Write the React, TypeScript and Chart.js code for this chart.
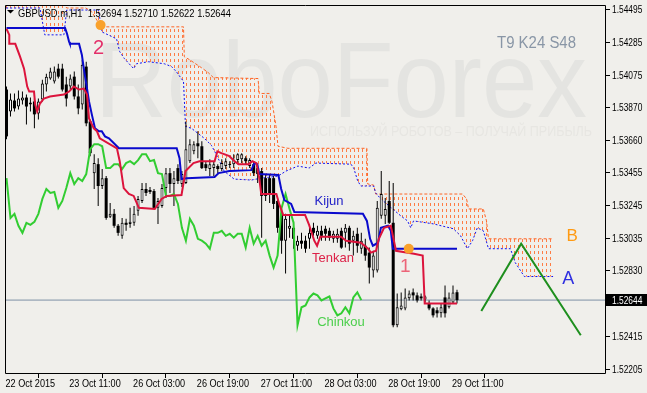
import React, { useEffect, useRef } from 'react';
import { Chart, registerables } from 'chart.js';

Chart.register(...registerables);

const BG = '#F0EFEB';
const TEXT_FAMILY = "'Liberation Sans', Arial, sans-serif";

// ---- axis ticks ----
const xTickBars = [0, 16, 32, 48, 64, 80, 96, 112];
const xTickLabels = ['22 Oct 2015', '23 Oct 11:00', '26 Oct 03:00', '26 Oct 19:00', '27 Oct 11:00', '28 Oct 03:00', '28 Oct 19:00', '29 Oct 11:00'];
const yTickValues = [1.54495, 1.54285, 1.54075, 1.5387, 1.5366, 1.53455, 1.53245, 1.53035, 1.5283, 1.52415, 1.52205];
const lastPrice = 1.52644;
const titleText = 'GBPUSD.m,H1  1.52694 1.52710 1.52622 1.52644';
const settingsText = 'T9 K24 S48';
const chinkouShift = 24;

// ---- H1 candles (bar index 0..113) ----
const opens = [
  1.53984, 1.53845, 1.53914, 1.53876, 1.53914, 1.53933, 1.53889, 1.53908, 1.53832, 1.53921,
  1.54016, 1.54054, 1.54035, 1.54117, 1.54117, 1.54016, 1.54003, 1.54066, 1.5394, 1.53889,
  1.5413, 1.53781, 1.53452, 1.53509, 1.5337, 1.5342, 1.53174, 1.53193, 1.53117, 1.53053,
  1.53136, 1.53129, 1.53136, 1.53212, 1.53275, 1.53351, 1.53345, 1.53338, 1.53231, 1.53243,
  1.53357, 1.53452, 1.53383, 1.53484, 1.53383, 1.53389, 1.53528, 1.53591, 1.53642, 1.53623,
  1.53509, 1.53478, 1.53484, 1.53497, 1.53478, 1.53497, 1.53503, 1.53509, 1.53535, 1.53541,
  1.53547, 1.53497, 1.53509, 1.53484, 1.53465, 1.5342, 1.5342, 1.5342, 1.53275, 1.53193,
  1.53022, 1.53098, 1.53104, 1.5299, 1.53022, 1.53022, 1.53034, 1.53104, 1.53053, 1.53085,
  1.53098, 1.53085, 1.53034, 1.53034, 1.53085, 1.53072, 1.53104, 1.53022, 1.53066, 1.52971,
  1.5299, 1.52946, 1.52832, 1.52832, 1.5318, 1.5318, 1.53275, 1.53136, 1.52484, 1.52585,
  1.52591, 1.52655, 1.52693, 1.52674, 1.52667, 1.52648, 1.52623, 1.52591, 1.52579, 1.5256,
  1.52661, 1.52598, 1.52629, 1.52694,
];
const highs = [
  1.54003, 1.53959, 1.53959, 1.53978, 1.53971, 1.53952, 1.53933, 1.53927, 1.53927, 1.54047,
  1.54085, 1.54123, 1.5413, 1.54148, 1.54148, 1.54066, 1.54079, 1.54098, 1.54016, 1.54174,
  1.54161, 1.53794, 1.53572, 1.53547, 1.53478, 1.53433, 1.53262, 1.53224, 1.53129, 1.53167,
  1.53161, 1.53231, 1.53243, 1.53307, 1.53389, 1.53389, 1.53364, 1.53351, 1.53294, 1.53383,
  1.53484, 1.53484, 1.53465, 1.53509, 1.53465, 1.53781, 1.53667, 1.53655, 1.53718, 1.53655,
  1.53528, 1.53541, 1.53528, 1.53509, 1.53541, 1.53547, 1.53528, 1.53572, 1.53579, 1.53579,
  1.5356, 1.53547, 1.53528, 1.53509, 1.53484, 1.53446, 1.53446, 1.53433, 1.53294, 1.53212,
  1.53193, 1.5318, 1.53148, 1.53053, 1.53072, 1.53053, 1.53104, 1.53136, 1.53117, 1.53117,
  1.53117, 1.53104, 1.53085, 1.53098, 1.53104, 1.53129, 1.53117, 1.53085, 1.53104, 1.53072,
  1.53034, 1.52978, 1.52958, 1.53275, 1.53465, 1.53294, 1.53402, 1.53389, 1.52686, 1.52693,
  1.52718, 1.52705, 1.52718, 1.52693, 1.52686, 1.52674, 1.52642, 1.52598, 1.52598, 1.52623,
  1.52737, 1.52693, 1.52737, 1.5271,
];
const lows = [
  1.53667, 1.53813, 1.53845, 1.53857, 1.53889, 1.53762, 1.53845, 1.53737, 1.53794, 1.53908,
  1.53971, 1.54047, 1.54022, 1.54054, 1.53971, 1.53876, 1.53984, 1.53921, 1.53826, 1.53857,
  1.5375, 1.5356, 1.53351, 1.53243, 1.53351, 1.53155, 1.53167, 1.53104, 1.53053, 1.53034,
  1.53085, 1.53104, 1.53117, 1.5318, 1.53262, 1.53307, 1.53319, 1.53224, 1.53129, 1.53231,
  1.53294, 1.53326, 1.53243, 1.53383, 1.53364, 1.53383, 1.53516, 1.53572, 1.53547, 1.53478,
  1.53465, 1.53433, 1.53433, 1.53452, 1.53465, 1.53478, 1.53484, 1.53484, 1.53509, 1.53516,
  1.53509, 1.53484, 1.53433, 1.53389, 1.53041, 1.53275, 1.53262, 1.53224, 1.53072, 1.52939,
  1.52813, 1.53041, 1.52971, 1.52958, 1.52971, 1.52946, 1.52971, 1.53053, 1.53034, 1.53022,
  1.53022, 1.53022, 1.53009, 1.53009, 1.52971, 1.52978, 1.52958, 1.52927, 1.52946, 1.52939,
  1.52895, 1.5275, 1.52787, 1.52819, 1.53161, 1.53129, 1.53129, 1.52471, 1.52471, 1.52579,
  1.52579, 1.52642, 1.52642, 1.52629, 1.52642, 1.52629, 1.52579, 1.52534, 1.52534, 1.52534,
  1.52534, 1.52591, 1.52623, 1.52622,
];
const closes = [
  1.53686, 1.53921, 1.53864, 1.53927, 1.53933, 1.53876, 1.53902, 1.53826, 1.53908, 1.54022,
  1.54066, 1.54098, 1.54098, 1.54066, 1.53984, 1.53927, 1.54054, 1.5394, 1.53864, 1.54142,
  1.53769, 1.53579, 1.53516, 1.5337, 1.5342, 1.53167, 1.53193, 1.53117, 1.53072, 1.53136,
  1.53123, 1.53142, 1.53193, 1.53288, 1.53351, 1.53326, 1.53332, 1.53231, 1.53275, 1.53357,
  1.53452, 1.53383, 1.5342, 1.53402, 1.53446, 1.53604, 1.53636, 1.53636, 1.53623, 1.53484,
  1.53484, 1.53509, 1.53509, 1.53478, 1.53516, 1.53528, 1.53509, 1.53535, 1.53572, 1.53572,
  1.53528, 1.53535, 1.53452, 1.53446, 1.53307, 1.53307, 1.53319, 1.53256, 1.53104, 1.53022,
  1.53161, 1.53117, 1.53034, 1.53022, 1.53003, 1.52971, 1.53072, 1.53072, 1.53085, 1.53053,
  1.53066, 1.53041, 1.53066, 1.53066, 1.52978, 1.53104, 1.53003, 1.53053, 1.5299, 1.53022,
  1.52927, 1.52851, 1.52927, 1.53231, 1.53319, 1.53224, 1.53136, 1.52484, 1.52598, 1.5261,
  1.52661, 1.52686, 1.52674, 1.52642, 1.52655, 1.52667, 1.52591, 1.52547, 1.5256, 1.52598,
  1.5256, 1.52661, 1.52693, 1.52644,
];

// ---- Ichimoku lines: [bar index, price] ----
const tenkanPoints = [
  [0, 1.5437], [0.7, 1.54332], [0.7, 1.54275], [2.2, 1.54275], [3.4, 1.54193], [4.4, 1.54117],
  [5.2, 1.54003], [5.7, 1.53971], [6.9, 1.53971], [7.2, 1.53889], [7.7, 1.53845], [8.4, 1.53895],
  [9.4, 1.53927], [10.9, 1.5394], [14.4, 1.53952], [15.7, 1.53971], [16.9, 1.54003], [18.2, 1.53984],
  [19.4, 1.5399], [20.2, 1.53952], [20.7, 1.538], [21.9, 1.53737], [22.7, 1.53718], [23.4, 1.53674],
  [27.7, 1.5361], [28.4, 1.53528], [29.4, 1.53357], [30.7, 1.53319], [31.9, 1.53307], [33.2, 1.53231],
  [37.2, 1.53224], [38.9, 1.53288], [40.2, 1.53307], [43.9, 1.53313], [44.4, 1.53389], [44.9, 1.53465],
  [46.9, 1.53516], [48.4, 1.53528], [52.2, 1.53528], [52.9, 1.53591], [53.9, 1.53579], [55.9, 1.5356],
  [57.2, 1.53528], [58.2, 1.53509], [60.7, 1.53509], [61.7, 1.53528], [62.7, 1.53516], [63.4, 1.5342],
  [63.9, 1.53319], [67.7, 1.53319], [68.4, 1.53256], [69.4, 1.53186], [74.9, 1.53186], [75.9, 1.53123],
  [77.2, 1.53022], [77.9, 1.5299], [78.7, 1.53047], [83.9, 1.53047], [85.2, 1.53022], [88.9, 1.53009],
  [90.7, 1.52971], [91.4, 1.52946], [92.7, 1.52958], [93.4, 1.53034], [94.7, 1.53104], [96.4, 1.53117],
  [97.7, 1.52958], [102.2, 1.52939], [104.4, 1.52927], [104.9, 1.52623], [113, 1.52623],
];
const kijunPoints = [
  [0, 1.54376], [14.7, 1.54376], [15.2, 1.54338], [15.7, 1.54288], [15.9, 1.54275], [18.2, 1.54275],
  [18.9, 1.54206], [19.4, 1.54117], [20.2, 1.5399], [20.7, 1.53908], [21.4, 1.53826], [22.2, 1.53737],
  [23.2, 1.53718], [23.9, 1.53718], [24.7, 1.53686], [25.7, 1.53674], [27.7, 1.53623], [28.2, 1.5361],
  [42.7, 1.5361], [43.4, 1.53547], [43.9, 1.53414], [45.2, 1.5342], [52.2, 1.53427], [53.2, 1.53452],
  [55.9, 1.53465], [61.4, 1.53471], [62.2, 1.53516], [62.9, 1.53509], [63.4, 1.53446], [68.2, 1.5344],
  [68.9, 1.53351], [69.7, 1.53281], [71.4, 1.53256], [72.2, 1.53205], [89.4, 1.53193], [90.4, 1.53148],
  [91.2, 1.53034], [91.9, 1.5299], [93.2, 1.53009], [93.9, 1.53104], [95.7, 1.53117], [96.4, 1.53085],
  [96.9, 1.52971], [113, 1.52971],
];
const senkouAPoints = [
  [-1.1, 1.54503], [8.4, 1.54503], [9.6, 1.54332], [14.4, 1.54332],
  [15.1, 1.5449], [23.1, 1.5449], [23.9, 1.54351], [27.6, 1.54307], [28.4, 1.54225], [29.6, 1.5418],
  [31.9, 1.54117], [32.6, 1.54148], [35.6, 1.54161], [39.6, 1.54148], [41.4, 1.5413], [42.6, 1.54098],
  [44.4, 1.54035], [44.9, 1.5375], [46.4, 1.53737], [49.6, 1.53674], [51.4, 1.53629], [52.6, 1.53572],
  [54.6, 1.53465], [57.1, 1.53414], [61.4, 1.53408], [63.9, 1.5342], [68.1, 1.53433], [70.1, 1.53465],
  [73.1, 1.53497], [75.9, 1.53484], [77.6, 1.53516], [86.4, 1.53509], [87.1, 1.53484], [88.1, 1.53402],
  [88.9, 1.5337], [92.1, 1.5337], [92.6, 1.53326], [93.9, 1.53288], [98.9, 1.5318], [100.6, 1.53148],
  [101.4, 1.53104], [102.1, 1.53148], [107.1, 1.53129], [112.1, 1.53098], [113.9, 1.53053], [115.6, 1.52971],
  [116.9, 1.53022], [118.1, 1.53104], [119.6, 1.53085], [120.9, 1.52971], [126.4, 1.52971], [127.6, 1.52883],
  [129.9, 1.52794], [137.1, 1.52794],
];
const senkouBPoints = [
  [-1.1, 1.54522], [14.6, 1.54522], [15.1, 1.54503], [19.9, 1.54503], [21.4, 1.54478], [23.1, 1.54408],
  [23.9, 1.54383], [44.4, 1.54383], [44.6, 1.54193], [45.9, 1.54174], [48.9, 1.54123], [50.6, 1.54092],
  [51.9, 1.5406], [63.1, 1.54054], [63.4, 1.53959], [65.9, 1.53959], [66.6, 1.53908], [67.6, 1.5375],
  [68.1, 1.53623], [70.6, 1.5361], [90.4, 1.5361], [90.6, 1.53383], [92.1, 1.53376], [92.6, 1.53319],
  [114.4, 1.53319], [115.4, 1.53288], [115.9, 1.53224], [119.6, 1.53224], [120.4, 1.53148], [120.9, 1.53034],
  [137.1, 1.53034],
];

// ---- drawn objects ----
const forecastPoints = [[119.1, 1.52574], [129.1, 1.53003], [144.05, 1.5242]];
const signalPoints = [[23.6, 1.54394], [100.9, 1.52971]];
const noteTexts = [
  { text: 'Kijun', x: 80.9, y: 1.53269, color: '#2222C8', size: 13 },
  { text: 'Tenkan', x: 81.9, y: 1.52908, color: '#DC2248', size: 13 },
  { text: 'Chinkou', x: 83.9, y: 1.52503, color: '#4CCF4C', size: 13 },
  { text: '2', x: 23.1, y: 1.54243, color: '#E3306A', size: 20 },
  { text: '1', x: 100.0, y: 1.52857, color: '#EC6478', size: 19 },
  { text: 'B', x: 141.9, y: 1.53047, color: '#FF9A12', size: 17 },
  { text: 'A', x: 140.9, y: 1.52781, color: '#2E2EE0', size: 18 },
];

const X_MIN = -0.375;
const X_MAX = 150.125;
const Y_MIN = 1.5218;
const Y_MAX = 1.54522;
const HATCH_COLOR = '#FF7C44';

function squeezeText(
  ctx: CanvasRenderingContext2D, text: string, x: number, y: number,
  sx: number, font: string, color: string,
) {
  ctx.save();
  ctx.font = font;
  ctx.fillStyle = color;
  ctx.textAlign = 'left';
  ctx.textBaseline = 'alphabetic';
  ctx.translate(x, y);
  ctx.scale(sx, 1);
  ctx.fillText(text, 0, 0);
  ctx.restore();
}

function fitText(ctx: CanvasRenderingContext2D, text: string, x: number, baseline: number, width: number, font: string, color: string) {
  ctx.save();
  ctx.font = font;
  const w = ctx.measureText(text).width || 1;
  ctx.restore();
  squeezeText(ctx, text, x, baseline, width / w, font, color);
}

const AXIS_FONT = `10px ${TEXT_FAMILY}`;

// Kumo hatch between the two Senkou datasets (indices 0 = A, 1 = B), using their laid-out points
const kumoPlugin = {
  id: 'kumo',
  beforeDatasetsDraw(chart: any) {
    const { ctx, chartArea: a } = chart;
    const ptsA = chart.getDatasetMeta(0).data;
    const ptsB = chart.getDatasetMeta(1).data;
    if (!ptsA.length || !ptsB.length) return;
    ctx.save();
    ctx.beginPath();
    ctx.rect(a.left, a.top, a.right - a.left, a.bottom - a.top);
    ctx.clip();
    ctx.beginPath();
    ptsB.forEach((p: any, i: number) => (i ? ctx.lineTo(p.x, p.y) : ctx.moveTo(p.x, p.y)));
    for (let i = ptsA.length - 1; i >= 0; i--) ctx.lineTo(ptsA[i].x, ptsA[i].y);
    ctx.closePath();
    ctx.clip();
    ctx.fillStyle = HATCH_COLOR;
    for (let x = Math.floor(a.left) + 1; x < a.right; x += 4) {
      for (let y = Math.floor(a.top); y < a.bottom; y += 6) {
        ctx.fillRect(x, y, 1, 3);
      }
    }
    ctx.restore();
  },
};

const decorPlugin = {
  id: 'decor',
  beforeDraw(chart: any) {
    const { ctx, width, height } = chart;
    ctx.save();
    ctx.fillStyle = BG;
    ctx.fillRect(0, 0, width, height);
    fitText(ctx, 'RoboForex', 95, 117, 492, `108px ${TEXT_FAMILY}`, '#E4E4E1');
    fitText(ctx, 'ИСПОЛЬЗУЙ РОБОТОВ – ПОЛУЧАЙ ПРИБЫЛЬ', 310, 136, 282, `14px ${TEXT_FAMILY}`, '#E7E6E2');
    ctx.restore();
  },
  afterDatasetsDraw(chart: any) {
    const { ctx, chartArea: a, scales } = chart;
    const xs = scales.x;
    const ys = scales.y;
    ctx.save();
    ctx.strokeStyle = '#000';
    ctx.lineWidth = 1;
    ctx.beginPath();
    ctx.moveTo(a.left + 0.5, a.bottom + 0.5);
    ctx.lineTo(a.left + 0.5, a.top + 0.5);
    ctx.lineTo(a.right + 0.5, a.top + 0.5);
    ctx.lineTo(a.right + 0.5, a.bottom + 0.5);
    ctx.lineTo(a.left + 0.5, a.bottom + 0.5);
    ctx.stroke();
    ctx.textAlign = 'center';
    ctx.textBaseline = 'middle';
    for (const n of noteTexts) {
      ctx.font = `${n.size}px ${TEXT_FAMILY}`;
      ctx.fillStyle = n.color;
      ctx.fillText(n.text, xs.getPixelForValue(n.x), ys.getPixelForValue(n.y));
    }
    fitText(ctx, settingsText, 497, 48, 79, `16px ${TEXT_FAMILY}`, '#8996A6');
    ctx.restore();
  },
  afterDraw(chart: any) {
    const { ctx, chartArea: a, scales, width } = chart;
    const xs = scales.x;
    const ys = scales.y;
    ctx.save();
    xTickBars.forEach((v, i) => {
      squeezeText(ctx, xTickLabels[i], xs.getPixelForValue(v) - 1, 387, 0.91, AXIS_FONT, '#000');
    });
    yTickValues.forEach((v) => {
      squeezeText(ctx, v.toFixed(5), a.right + 7, ys.getPixelForValue(v) + 3.6, 0.84, AXIS_FONT, '#000');
    });
    const py = Math.round(ys.getPixelForValue(lastPrice));
    ctx.fillStyle = '#000';
    ctx.fillRect(a.right + 1, py - 6, width - a.right - 1, 12);
    squeezeText(ctx, lastPrice.toFixed(5), a.right + 7, py + 4, 0.84, AXIS_FONT, '#FFF');
    ctx.fillStyle = '#000';
    ctx.beginPath();
    ctx.moveTo(7, 10);
    ctx.lineTo(14, 10);
    ctx.lineTo(10.5, 13.5);
    ctx.closePath();
    ctx.fill();
    fitText(ctx, titleText, 18, 17, 213, `11.5px ${TEXT_FAMILY}`, '#000');
    ctx.restore();
  },
};

const toXY = (arr: number[][]) => arr.map(([x, y]) => ({ x, y }));

export default function App() {
  const ref = useRef<HTMLCanvasElement>(null);

  useEffect(() => {
    const canvas = ref.current;
    if (!canvas) return;

    const idx = opens.map((_, i) => i);
    const wicks = idx.map((i) => ({ x: i, y: [lows[i], highs[i]] }));
    const bullBodies = idx.filter((i) => closes[i] >= opens[i]).map((i) => ({ x: i, y: [opens[i], closes[i]] }));
    const bearBodies = idx.filter((i) => closes[i] < opens[i]).map((i) => ({ x: i, y: [closes[i], opens[i]] }));
    const chinkou = closes.slice(chinkouShift).map((c, i) => ({ x: i, y: c }));

    const lineBase = { pointRadius: 0, pointHoverRadius: 0, tension: 0, fill: false };

    const chart = new Chart(canvas, {
      type: 'line',
      data: {
        datasets: [
          {
            ...lineBase,
            type: 'line',
            label: 'Senkou A',
            data: toXY(senkouAPoints),
            borderColor: '#1010F0',
            borderWidth: 1,
            borderDash: [2, 2],
            order: 20,
          },
          {
            ...lineBase,
            type: 'line',
            label: 'Senkou B',
            data: toXY(senkouBPoints),
            borderColor: '#FF6424',
            borderWidth: 1,
            borderDash: [3, 2],
            order: 21,
          },
          {
            ...lineBase,
            type: 'line',
            label: 'Price',
            data: [{ x: X_MIN, y: lastPrice }, { x: X_MAX, y: lastPrice }],
            borderColor: '#7D90A6',
            borderWidth: 1,
            order: 15,
          },
          {
            type: 'bar',
            label: 'Wicks',
            data: wicks,
            backgroundColor: '#000',
            borderWidth: 0,
            barThickness: 1,
            grouped: false,
            inflateAmount: 0,
            order: 12,
          },
          {
            type: 'bar',
            label: 'Bear',
            data: bearBodies,
            backgroundColor: '#000',
            borderColor: '#000',
            borderWidth: 0,
            barThickness: 3,
            grouped: false,
            minBarLength: 1,
            inflateAmount: 0,
            order: 11,
          },
          {
            type: 'bar',
            label: 'Bull',
            data: bullBodies,
            backgroundColor: '#FFFFFF',
            borderColor: '#000',
            borderWidth: 1,
            borderSkipped: false,
            barThickness: 3,
            grouped: false,
            minBarLength: 1,
            inflateAmount: 0,
            order: 11,
          },
          {
            ...lineBase,
            type: 'line',
            label: 'Chinkou',
            data: chinkou,
            borderColor: '#32CD32',
            borderWidth: 2,
            order: 6,
          },
          {
            ...lineBase,
            type: 'line',
            label: 'Kijun',
            data: toXY(kijunPoints),
            borderColor: '#0A0ACD',
            borderWidth: 2,
            order: 5,
          },
          {
            ...lineBase,
            type: 'line',
            label: 'Tenkan',
            data: toXY(tenkanPoints),
            borderColor: '#DC143C',
            borderWidth: 2,
            order: 4,
          },
          {
            ...lineBase,
            type: 'line',
            label: 'Forecast',
            data: toXY(forecastPoints),
            borderColor: '#1E8F1E',
            borderWidth: 2,
            order: 3,
          },
          {
            type: 'line',
            label: 'Signals',
            data: toXY(signalPoints),
            showLine: false,
            pointRadius: 5,
            pointHoverRadius: 5,
            pointBackgroundColor: '#F9A12B',
            pointBorderWidth: 0,
            order: 1,
          },
        ],
      } as any,
      options: {
        animation: false,
        responsive: false,
        devicePixelRatio: 1,
        events: [],
        layout: { padding: { left: 3, top: 3, right: 0, bottom: 0 } },
        plugins: {
          legend: { display: false },
          tooltip: { enabled: false },
          title: { display: false },
        },
        scales: {
          x: {
            type: 'linear',
            min: X_MIN,
            max: X_MAX,
            offset: false,
            afterBuildTicks: (s: any) => {
              s.ticks = xTickBars.map((v) => ({ value: v }));
            },
            afterFit: (s: any) => {
              s.height = 20;
            },
            ticks: { display: false, autoSkip: false, maxRotation: 0 },
            grid: { drawOnChartArea: false, drawTicks: true, tickLength: 5, color: '#000' },
            border: { display: false },
          },
          y: {
            type: 'linear',
            position: 'right',
            min: Y_MIN,
            max: Y_MAX,
            afterBuildTicks: (s: any) => {
              s.ticks = yTickValues.map((v) => ({ value: v }));
            },
            afterFit: (s: any) => {
              s.width = 42;
            },
            ticks: { display: false },
            grid: { drawOnChartArea: false, drawTicks: true, tickLength: 5, color: '#000' },
            border: { display: false },
          },
        },
      } as any,
      plugins: [decorPlugin, kumoPlugin],
    });

    return () => chart.destroy();
  }, []);

  return (
    <div style={{ position: 'fixed', left: 0, top: 0, width: 647, height: 393, background: BG }}>
      <canvas ref={ref} width={647} height={393} style={{ display: 'block', width: 647, height: 393 }} />
    </div>
  );
}
